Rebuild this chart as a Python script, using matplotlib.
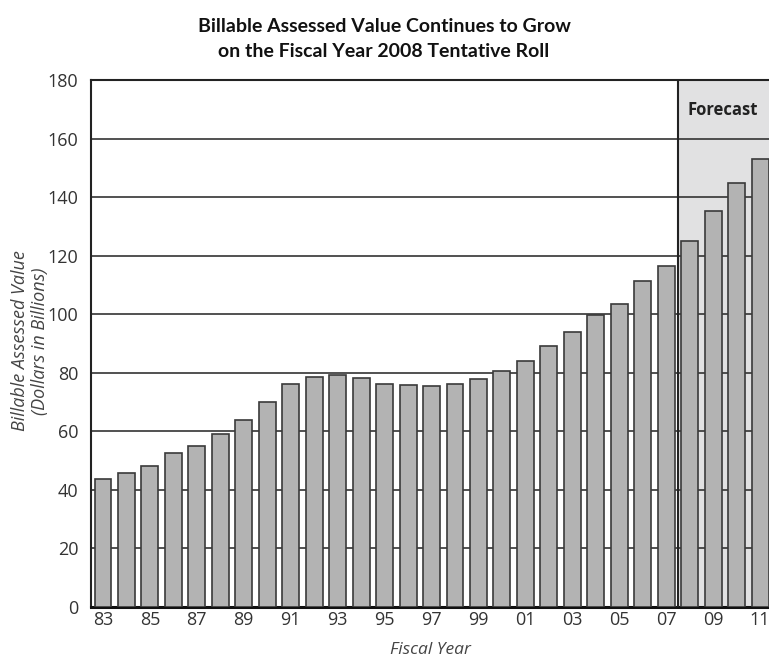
import matplotlib
matplotlib.use("Agg")
import matplotlib.pyplot as plt
import numpy as np

years = ["83", "84", "85", "86", "87", "88", "89", "90", "91", "92", "93", "94", "95", "96",
         "97", "98", "99", "00", "01", "02", "03", "04", "05", "06", "07", "08", "09", "10", "11"]
values = [43.7, 45.7, 48.3, 52.5, 55.0, 59.0, 64.0, 70.0, 76.2, 78.4, 79.1, 78.1, 76.1, 75.8,
          75.5, 76.1, 78.0, 80.6, 84.0, 89.2, 94.0, 99.6, 103.4, 111.3, 116.4, 125.1, 135.1, 144.8, 152.9]
forecast_start = "08"
yticks = [0, 20, 40, 60, 80, 100, 120, 140, 160, 180]

plt.rcParams['font.family'] = ['Open Sans', 'DejaVu Sans']

W, H = 769, 659
fig = plt.figure(figsize=(W / 100, H / 100), dpi=100)
ax = fig.add_axes([91 / W, (H - 607) / H, (W - 91) / W, (607 - 80) / H])

x = np.arange(len(years))
fi = years.index(forecast_start)
ax.set_xlim(-0.51, len(years) - 1 + 0.38)
ax.set_ylim(0, 180)

ax.axvspan(fi - 0.5, len(years) + 1, color='#e1e1e2', zorder=0)
for t in yticks[1:]:
    ax.axhline(t, color='#333333', lw=1.2, zorder=1)
ax.axvline(fi - 0.5, color='#222222', lw=1.5, zorder=4)

ax.bar(x, values, width=0.72, color='#b3b3b3', edgecolor='#3a3a3a', linewidth=1.2, zorder=3)

ax.text(fi + 1.43, 169.7, "Forecast", ha='center', va='center', fontsize=12,
        fontweight='bold', color='#222222', zorder=5)

ax.set_yticks(yticks)
ax.set_yticklabels([str(t) for t in yticks], fontsize=13, color='#333333')
ax.set_xticks(x[::2])
ax.set_xticklabels(years[::2], fontsize=13, color='#333333')
ax.tick_params(axis='y', length=0, pad=9)
ax.tick_params(axis='x', length=0, pad=3)

ax.spines['right'].set_visible(False)
ax.spines['top'].set_color('#222222')
ax.spines['top'].set_linewidth(1.5)
ax.spines['left'].set_color('#222222')
ax.spines['left'].set_linewidth(1.5)
ax.spines['bottom'].set_color('#111111')
ax.spines['bottom'].set_linewidth(2.2)

ax.set_xlabel("Fiscal Year", fontsize=12.5, style='italic', color='#444444', labelpad=9)
fig.text(30 / W, 1 - 341 / H, "Billable Assessed Value\n(Dollars in Billions)", rotation=90,
         ha='center', va='center', fontsize=13, style='italic', color='#444444',
         linespacing=1.1)

fig.text(384 / W, 1 - 39 / H, "Billable Assessed Value Continues to Grow\non the Fiscal Year 2008 Tentative Roll",
         ha='center', va='center', fontsize=14, fontweight='bold', color='#111111', linespacing=1.6,
         family=['Lato', 'Open Sans', 'DejaVu Sans'])

fig.savefig("out.png", dpi=100)
